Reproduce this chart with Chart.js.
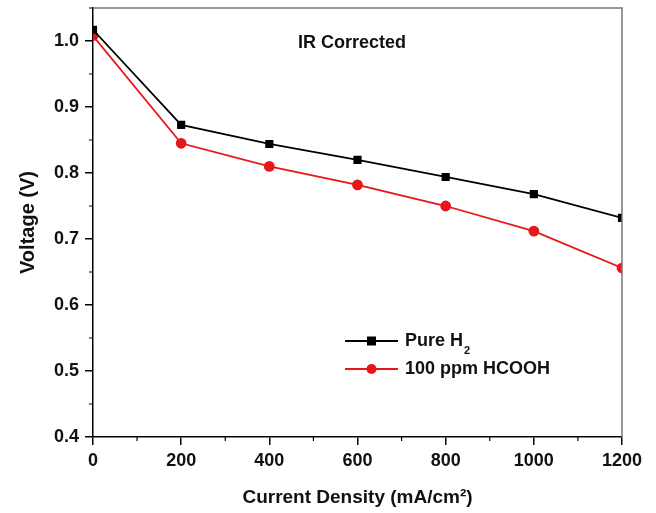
<!DOCTYPE html>
<html>
<head>
    <title>IR Corrected Polarization</title>
    <script src="https://cdn.jsdelivr.net/npm/chart.js"></script>
    <style>
        html, body { margin:0; padding:0; background:#fff; }
        #wrap { width:656px; height:513px; }
    </style>
</head>
<body>
<div id="wrap"><canvas id="polChart" width="656" height="513"></canvas></div>
<script>
const currentDensity = [0, 200, 400, 600, 800, 1000, 1200];
const pureH2 = [1.017, 0.873, 0.844, 0.820, 0.794, 0.768, 0.732];
const hcooh100 = [1.008, 0.845, 0.810, 0.782, 0.750, 0.712, 0.656];
const xMinorTicks = [100, 300, 500, 700, 900, 1100];
const yMinorTicks = [0.45, 0.55, 0.65, 0.75, 0.85, 0.95, 1.05];
const seriesNames = ['Pure H', '100 ppm HCOOH'];

const RED = '#e8161b';
const FONT = '"Liberation Sans", Arial, sans-serif';

// minor ticks, top/right frame, legend and annotation
const extras = {
  id: 'extras',
  afterDraw(chart) {
    const ctx = chart.ctx, a = chart.chartArea;
    const xs = chart.scales.x, ys = chart.scales.y;
    ctx.save();
    ctx.strokeStyle = '#777';
    ctx.lineWidth = 1.5;
    ctx.beginPath();
    ctx.moveTo(a.left, a.top); ctx.lineTo(a.right, a.top); ctx.lineTo(a.right, a.bottom);
    ctx.stroke();
    ctx.strokeStyle = '#000';
    ctx.lineWidth = 1.2;
    ctx.beginPath();
    xMinorTicks.forEach(v => { const px = xs.getPixelForValue(v); ctx.moveTo(px, a.bottom); ctx.lineTo(px, a.bottom + 4); });
    yMinorTicks.forEach(v => { const py = ys.getPixelForValue(v); ctx.moveTo(a.left, py); ctx.lineTo(a.left - 4, py); });
    ctx.stroke();

    ctx.fillStyle = '#111';
    ctx.font = 'bold 18px ' + FONT;
    ctx.textBaseline = 'middle';
    ctx.textAlign = 'center';
    ctx.fillText('IR Corrected', 352, 43);

    // legend
    const rows = [{y: 341, color: '#000', shape: 'rect', label: seriesNames[0], sub: '2'},
                  {y: 369, color: RED, shape: 'circle', label: seriesNames[1]}];
    rows.forEach(r => {
      ctx.strokeStyle = r.color; ctx.fillStyle = r.color; ctx.lineWidth = 2;
      ctx.beginPath(); ctx.moveTo(345, r.y); ctx.lineTo(398, r.y); ctx.stroke();
      ctx.beginPath();
      if (r.shape === 'rect') ctx.rect(367, r.y - 4.5, 9, 9);
      else ctx.arc(371.5, r.y, 5, 0, Math.PI * 2);
      ctx.fill();
      ctx.fillStyle = '#111';
      ctx.textAlign = 'left';
      ctx.font = 'bold 18px ' + FONT;
      ctx.fillText(r.label, 405, r.y);
      if (r.sub) {
        const w = ctx.measureText(r.label).width;
        ctx.font = 'bold 11px ' + FONT;
        ctx.fillText(r.sub, 405 + w + 1, r.y + 10);
      }
    });
    ctx.restore();
  }
};

new Chart(document.getElementById('polChart'), {
  type: 'line',
  data: {
    labels: currentDensity,
    datasets: [
      {label: 'Pure H2', data: currentDensity.map((x, i) => ({x: x, y: pureH2[i]})),
       borderColor: '#000', backgroundColor: '#000', borderWidth: 1.8,
       pointStyle: 'rect', pointRadius: 4.5, pointHoverRadius: 4.5},
      {label: '100 ppm HCOOH', data: currentDensity.map((x, i) => ({x: x, y: hcooh100[i]})),
       borderColor: RED, backgroundColor: RED, borderWidth: 1.8,
       pointStyle: 'circle', pointRadius: 4.5, pointHoverRadius: 4.5}
    ]
  },
  options: {
    responsive: false,
    animation: false,
    layout: {padding: {left: 0, right: 34, top: 0, bottom: 0}},
    plugins: {legend: {display: false}, tooltip: {enabled: false}},
    scales: {
      x: {
        type: 'linear', min: 0, max: 1200,
        afterFit: s => { s.height = 76; },
        border: {color: '#000', width: 1.5},
        grid: {drawOnChartArea: false, drawTicks: true, tickLength: 8, color: '#000', lineWidth: 1.5},
        ticks: {stepSize: 200, padding: 5, color: '#111', font: {family: FONT, size: 18, weight: 'bold'},
                callback: v => String(v)},
        title: {display: true, text: 'Current Density (mA/cm²)', color: '#111', padding: {top: 10},
                font: {family: FONT, size: 19, weight: 'bold'}}
      },
      y: {
        type: 'linear', min: 0.4, max: 1.05,
        afterFit: s => { s.width = 93; s.paddingTop = 8; },
        afterBuildTicks: s => { s.ticks = s.ticks.filter(t => Math.abs(t.value * 10 - Math.round(t.value * 10)) < 1e-6); },
        border: {color: '#000', width: 1.5},
        grid: {drawOnChartArea: false, drawTicks: true, tickLength: 8, color: '#000', lineWidth: 1.5},
        ticks: {stepSize: 0.1, padding: 6, color: '#111', font: {family: FONT, size: 18, weight: 'bold'},
                callback: v => v.toFixed(1)},
        title: {display: true, text: 'Voltage (V)', color: '#111', padding: {top: 16, bottom: 0},
                font: {family: FONT, size: 20, weight: 'bold'}}
      }
    }
  },
  plugins: [extras]
});
</script>
</body>
</html>
